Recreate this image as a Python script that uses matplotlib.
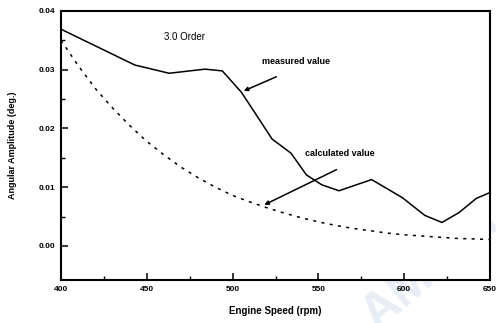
import numpy as np
import matplotlib.pyplot as plt

plt.rcParams["font.family"] = ["Liberation Sans", "DejaVu Sans"]

# measured 3.0 order amplitude
rpm_meas = [400, 443, 463, 484, 494, 505, 510, 523, 534, 543, 552, 562,
            581, 599, 612, 622, 632, 642, 650]
amp_meas = [0.0369, 0.0308, 0.0294, 0.0301, 0.0298, 0.0262, 0.0240, 0.0182,
            0.0158, 0.0121, 0.0104, 0.0094, 0.0113, 0.0082, 0.0052, 0.0040,
            0.0057, 0.0081, 0.0091]

# calculated 3.0 order amplitude
rpm_calc = [400, 410, 420, 430, 440, 450, 460, 470, 480, 490, 500, 510, 520,
            530, 540, 550, 560, 570, 580, 590, 600, 610, 620, 630, 640, 650]
amp_calc = [0.0350, 0.0307, 0.0268, 0.0235, 0.0205, 0.0178, 0.0155, 0.0134,
            0.0116, 0.0100, 0.0086, 0.0075, 0.0065, 0.0056, 0.0048, 0.0041,
            0.0035, 0.0030, 0.0026, 0.0022, 0.0019, 0.0017, 0.0015, 0.0013,
            0.0012, 0.0011]

x_ticks = [400, 450, 500, 550, 600, 650]
y_ticks = [0.00, 0.01, 0.02, 0.03, 0.04]
y_ticklabels = ["0.00", "0.01", "0.02", "0.03", "0.04"]

fig = plt.figure(figsize=(4.96, 3.23), dpi=100)
ax = fig.add_axes([0.123, 0.133, 0.865, 0.833])

ax.plot(rpm_meas, amp_meas, color="black", lw=1.1)
ax.plot(rpm_calc, amp_calc, color="black", lw=1.1, linestyle=(0, (2, 3.5)))

ax.set_xlim(400, 650)
ax.set_ylim(-0.0058, 0.04)
ax.set_xticks(x_ticks)
ax.set_xticks([425, 475, 525, 575, 625], minor=True)
ax.set_yticks(y_ticks)
ax.set_yticklabels(y_ticklabels)
ax.set_yticks([0.005, 0.015, 0.025, 0.035], minor=True)
ax.tick_params(which="major", direction="in", length=5, width=1.1,
               labelsize=6, pad=4)
ax.tick_params(which="minor", direction="in", length=3, width=1)
for lab in ax.get_xticklabels() + ax.get_yticklabels():
    lab.set_fontweight("bold")
for s in ax.spines.values():
    s.set_linewidth(1.5)

ax.set_xlabel("Engine Speed (rpm)", fontsize=7, fontweight="bold", labelpad=10)
ax.set_ylabel("Angular Amplitude (deg.)", fontsize=6.5, fontweight="bold",
              labelpad=16)

ax.text(460, 0.0355, "3.0 Order", fontsize=7, va="center")
ax.text(517, 0.0314, "measured value", fontsize=6.5, fontweight="bold",
        va="center")
ax.text(542, 0.0158, "calculated value", fontsize=6.5, fontweight="bold",
        va="center")
ax.annotate("", xy=(505, 0.0262), xytext=(527, 0.0290),
            arrowprops=dict(arrowstyle="-|>", color="black", lw=1.1,
                            mutation_scale=6))
ax.annotate("", xy=(517, 0.0068), xytext=(562, 0.0132),
            arrowprops=dict(arrowstyle="-|>", color="black", lw=1.1,
                            mutation_scale=6))

# faint watermark
fig.text(0.87, 0.17, "AMARI", fontsize=36, fontweight="bold", color="#d3e0ef",
         rotation=40, ha="center", va="center", alpha=0.55, zorder=-1)

fig.savefig("out.png", dpi=100)
